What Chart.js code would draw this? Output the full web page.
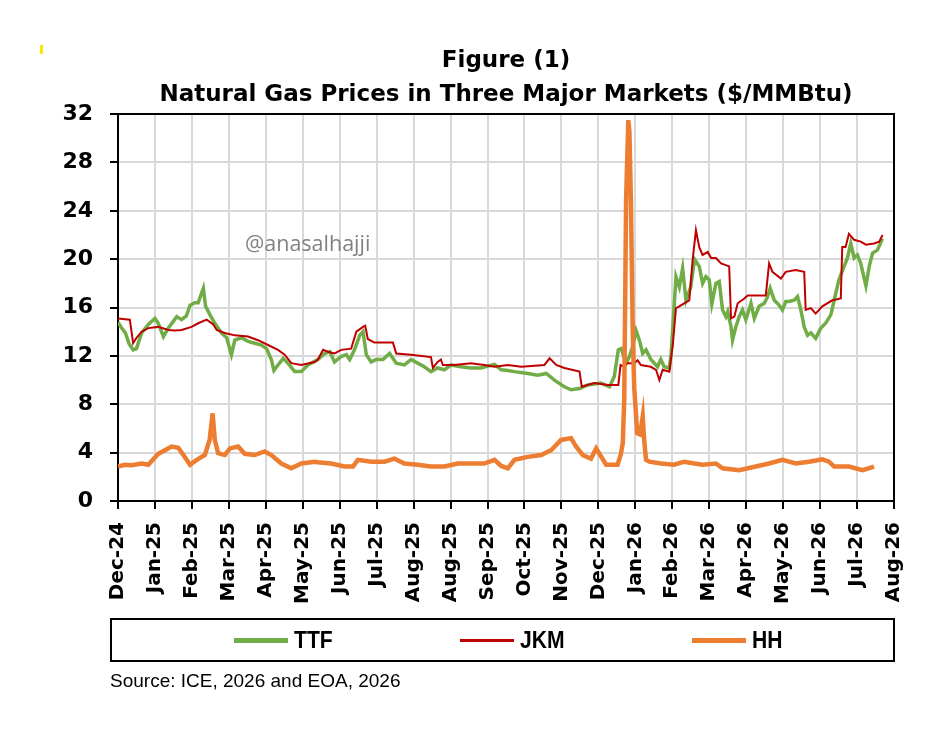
<!DOCTYPE html>
<html>
<head>
<meta charset="utf-8">
<script src="https://cdn.jsdelivr.net/npm/chart.js@4.4.1/dist/chart.umd.min.js"></script>
<style>
  html, body { margin: 0; padding: 0; background: #fff; }
  #wrap { position: relative; width: 950px; height: 743px; overflow: hidden; }
  #wrap canvas { position: absolute; left: 0; top: 0; }
  .mark { position: absolute; left: 40px; top: 45px; width: 3px; height: 9px; background: #ffe600; }
  .watermark { position: absolute; left: 245px; top: 232px; font: 21.5px 'Open Sans', sans-serif; line-height: 21px; color: #808080; }
  .legend-box { position: absolute; left: 110px; top: 618px; width: 781px; height: 40px; border: 2px solid #000; }
  .legend-item { position: absolute; top: 0; height: 40px; display: flex; align-items: center;
                 font: bold 24px 'Liberation Sans', sans-serif; color: #000; }
  .legend-item .swatch { display: inline-block; width: 54px; margin-right: 6px; }
  .legend-item .name { display: inline-block; transform: scaleX(0.88); transform-origin: left center; }
  .source { position: absolute; left: 110px; top: 671px; font: 19px 'Liberation Sans', sans-serif; line-height: 19px; color: #000; }
</style>
</head>
<body>
<div id="wrap">
  <canvas id="gasChart" width="950" height="743"></canvas>
  <div class="mark"></div>
  <div class="watermark">@anasalhajji</div>
  <div class="legend-box" id="legend"></div>
  <div class="source">Source: ICE, 2026 and EOA, 2026</div>
</div>
<script>
// x positions are in months counted from the Dec-24 tick
const monthLabels = ['Dec-24', 'Jan-25', 'Feb-25', 'Mar-25', 'Apr-25', 'May-25', 'Jun-25', 'Jul-25',
    'Aug-25', 'Aug-25', 'Sep-25', 'Oct-25', 'Nov-25', 'Dec-25', 'Jan-26', 'Feb-26', 'Mar-26',
    'Apr-26', 'May-26', 'Jun-26', 'Jul-26', 'Aug-26'];

const titleLines = ['Figure (1)', 'Natural Gas Prices in Three Major Markets ($/MMBtu)'];
const seriesNames = ['TTF', 'JKM', 'HH'];

const ttfMonths = [0.00, 0.10, 0.20, 0.30, 0.41, 0.50, 0.64, 0.82, 1.00, 1.09, 1.23, 1.36, 1.59, 1.72, 1.85, 1.95,
    2.08, 2.17, 2.31, 2.37, 2.49, 2.62, 2.80, 2.94, 3.07, 3.16, 3.34, 3.52, 3.70, 3.88, 4.02, 4.15, 4.22, 4.33,
    4.47, 4.60, 4.78, 4.96, 5.14, 5.41, 5.59, 5.73, 5.86, 6.04, 6.18, 6.27, 6.40, 6.54, 6.63, 6.72, 6.85, 6.99,
    7.17, 7.35, 7.53, 7.75, 7.93, 8.11, 8.29, 8.47, 8.65, 8.83, 9.01, 9.28, 9.55, 9.82, 10.19, 10.37, 10.55,
    10.73, 11.09, 11.36, 11.59, 11.81, 12.08, 12.26, 12.49, 12.71, 13.07, 13.30, 13.43, 13.54, 13.62, 13.75,
    13.84, 13.93, 14.02, 14.11, 14.20, 14.29, 14.42, 14.60, 14.69, 14.78, 14.92, 14.97, 15.05, 15.10, 15.19,
    15.28, 15.37, 15.50, 15.60, 15.73, 15.82, 15.91, 16.00, 16.07, 16.18, 16.27, 16.36, 16.45, 16.50, 16.59,
    16.63, 16.72, 16.81, 16.90, 16.99, 17.13, 17.22, 17.35, 17.49, 17.58, 17.65, 17.76, 17.89, 17.98, 18.07,
    18.16, 18.30, 18.39, 18.48, 18.57, 18.66, 18.75, 18.88, 19.02, 19.15, 19.29, 19.38, 19.51, 19.65, 19.74,
    19.83, 19.92, 20.01, 20.10, 20.24, 20.33, 20.42, 20.55, 20.69];
const ttfValues = [14.8, 14.3, 13.9, 13.0, 12.5, 12.6, 13.9, 14.6, 15.1, 14.7, 13.6, 14.3, 15.25, 15.0, 15.3, 16.2,
    16.4, 16.4, 17.6, 16.1, 15.4, 14.7, 13.9, 13.5, 12.1, 13.3, 13.5, 13.2, 13.05, 12.9, 12.6, 11.7, 10.8, 11.25,
    11.8, 11.4, 10.7, 10.7, 11.25, 11.7, 12.2, 12.35, 11.5, 11.95, 12.1, 11.7, 12.5, 13.7, 14.0, 12.1, 11.5, 11.7,
    11.7, 12.2, 11.4, 11.25, 11.7, 11.4, 11.1, 10.7, 11.0, 10.85, 11.25, 11.1, 11.0, 11.0, 11.3, 10.85, 10.8,
    10.7, 10.55, 10.4, 10.55, 10.0, 9.45, 9.2, 9.3, 9.6, 9.75, 9.45, 10.3, 12.5, 12.6, 11.4,
    11.95, 12.8, 14.1, 13.3, 12.2, 12.5, 11.7, 11.1, 11.7, 11.1, 11.0, 12.2, 16.1, 18.55, 17.7,
    19.25, 16.6, 17.7, 20.0, 19.4, 18.0, 18.55, 18.3, 16.3, 18.0, 18.15, 15.8, 15.25, 15.65, 14.4,
    13.3, 14.4, 15.25, 15.8, 15.0, 16.35, 15.1, 16.1, 16.35, 16.9, 17.6, 16.6, 16.2, 15.8, 16.5,
    16.5, 16.6, 16.9, 15.8, 14.4, 13.7, 13.9, 13.45, 14.3, 14.7, 15.4, 16.6, 18.3, 19.4, 20.1,
    21.3, 20.1, 20.35, 19.65, 17.8, 19.4, 20.5, 20.75, 21.7];

const jkmMonths = [0.00, 0.32, 0.41, 0.50, 0.64, 0.82, 1.09, 1.36, 1.54, 1.72, 1.99, 2.17, 2.40, 2.58, 2.67, 2.89,
    3.16, 3.52, 3.79, 4.06, 4.33, 4.51, 4.69, 4.96, 5.32, 5.41, 5.55, 5.68, 5.86, 6.04, 6.31, 6.45, 6.63, 6.69,
    6.76, 6.94, 7.44, 7.53, 7.93, 8.47, 8.52, 8.65, 8.74, 8.79, 9.10, 9.55, 9.91, 10.19, 10.55, 10.91, 11.54,
    11.68, 11.86, 12.08, 12.49, 12.55, 12.89, 13.25, 13.54, 13.60, 13.70, 13.79, 13.97, 14.06, 14.15, 14.42,
    14.56, 14.65, 14.74, 14.92, 15.01, 15.10, 15.19, 15.32, 15.46, 15.55, 15.64, 15.73, 15.82, 15.96, 16.05,
    16.18, 16.32, 16.54, 16.59, 16.68, 16.77, 16.95, 17.04, 17.53, 17.62, 17.71, 17.94, 18.07, 18.34, 18.57,
    18.61, 18.75, 18.88, 19.06, 19.33, 19.56, 19.60, 19.69, 19.78, 19.92, 20.10, 20.24, 20.46, 20.60, 20.69];
const jkmValues = [15.1, 15.0, 13.05, 13.5, 14.0, 14.3, 14.4, 14.15, 14.1, 14.15, 14.4, 14.7, 15.0, 14.6, 14.15, 13.9,
    13.7, 13.6, 13.3, 12.9, 12.5, 12.1, 11.4, 11.25, 11.5, 11.7, 12.5, 12.35, 12.2, 12.5, 12.6, 14.0, 14.4, 14.5,
    13.4, 13.1, 13.1, 12.2, 12.1, 11.9, 11.0, 11.5, 11.7, 11.25, 11.25, 11.4, 11.25, 11.1, 11.25, 11.1, 11.25,
    11.8, 11.25, 11.0, 10.7, 9.45, 9.75, 9.6, 9.6, 11.25, 11.1, 11.4, 11.4, 11.65, 11.25, 11.1,
    10.85, 10.0, 10.85, 10.7, 12.8, 15.95, 16.1, 16.35, 16.6, 19.9, 22.4, 21.0, 20.35, 20.6, 20.1,
    20.1, 19.65, 19.4, 15.1, 15.25, 16.35, 16.75, 17.0, 17.0, 19.65, 18.95, 18.4, 18.95, 19.1, 18.95,
    15.8, 15.95, 15.5, 16.1, 16.6, 16.75, 21.0, 21.0, 22.1, 21.6, 21.45, 21.2, 21.3, 21.45, 22.0];

const hhMonths = [0.00, 0.18, 0.37, 0.64, 0.82, 1.09, 1.27, 1.45, 1.63, 1.77, 1.95, 2.13, 2.35, 2.48, 2.56, 2.62,
    2.71, 2.89, 3.03, 3.25, 3.43, 3.70, 3.97, 4.15, 4.42, 4.69, 4.96, 5.32, 5.41, 5.77, 6.13, 6.36, 6.49, 6.85,
    7.21, 7.48, 7.75, 8.11, 8.47, 8.83, 9.20, 9.55, 9.91, 10.19, 10.37, 10.55, 10.73, 11.09, 11.45, 11.72, 11.99,
    12.26, 12.40, 12.58, 12.80, 12.94, 13.08, 13.21, 13.52, 13.61, 13.66, 13.70, 13.75, 13.81, 13.84, 13.88,
    13.93, 13.97, 14.05, 14.13, 14.20, 14.24, 14.29, 14.38, 14.69, 15.05, 15.32, 15.60, 15.82, 16.18, 16.36,
    16.81, 17.26, 17.62, 17.98, 18.34, 18.70, 19.06, 19.24, 19.38, 19.78, 20.15, 20.46];
const hhValues = [2.85, 3.0, 2.95, 3.1, 3.0, 3.9, 4.2, 4.5, 4.4, 3.8, 3.0, 3.4, 3.8, 5.05, 7.25, 5.05,
    3.95, 3.8, 4.35, 4.5, 3.9, 3.8, 4.1, 3.8, 3.1, 2.7, 3.1, 3.25, 3.2, 3.1, 2.85, 2.85, 3.4, 3.25,
    3.25, 3.5, 3.1, 3.0, 2.85, 2.85, 3.1, 3.1, 3.1, 3.4, 2.9, 2.7, 3.4, 3.65, 3.8, 4.2, 5.05,
    5.2, 4.5, 3.8, 3.5, 4.35, 3.65, 3.0, 3.0, 3.9, 4.8, 8.4, 24.9, 31.5, 30.5, 24.9,
    13.9, 9.4, 5.6, 5.5, 7.0, 5.0, 3.4, 3.25, 3.1, 3.0, 3.25, 3.1, 3.0, 3.1, 2.7,
    2.55, 2.85, 3.1, 3.4, 3.1, 3.25, 3.45, 3.25, 2.85, 2.85, 2.55, 2.85];

const seriesColors = ['#70AD47', '#C00000', '#ED7D31'];
const seriesWidths = [3.5, 2, 4.5];

function toPoints(months, values) {
    return months.map(function (m, i) { return { x: m, y: values[i] }; });
}

const plotFrame = {
    id: 'plotFrame',
    beforeDatasetsDraw: function (chart) {
        const ctx = chart.ctx;
        const a = chart.chartArea;
        ctx.save();
        ctx.strokeStyle = '#000';
        ctx.lineWidth = 2;
        ctx.beginPath();
        ctx.moveTo(a.left, a.top);
        ctx.lineTo(a.right, a.top);
        ctx.lineTo(a.right, a.bottom);
        ctx.stroke();
        ctx.restore();
    }
};

document.addEventListener('DOMContentLoaded', function () {
    Chart.defaults.font.family = "'DejaVu Sans', sans-serif";
    Chart.defaults.color = '#000';

    const allPoints = [toPoints(ttfMonths, ttfValues), toPoints(jkmMonths, jkmValues), toPoints(hhMonths, hhValues)];

    new Chart(document.getElementById('gasChart').getContext('2d'), {
        type: 'line',
        data: {
            datasets: seriesNames.map(function (name, i) {
                return {
                    label: name,
                    data: allPoints[i],
                    borderColor: seriesColors[i],
                    borderWidth: seriesWidths[i],
                    pointRadius: 0,
                    tension: 0,
                    fill: false,
                    order: 2 - i
                };
            })
        },
        options: {
            responsive: false,
            animation: false,
            layout: { padding: { top: 44, left: 0, right: 56, bottom: 132 } },
            plugins: {
                legend: { display: false },
                tooltip: { enabled: false },
                title: {
                    display: true,
                    fullSize: false,
                    text: titleLines,
                    color: '#000',
                    font: { size: 23, weight: 'bold', lineHeight: 1.48 },
                    padding: { top: 0, bottom: 2 }
                }
            },
            scales: {
                x: {
                    type: 'linear',
                    min: 0,
                    max: 21,
                    afterFit: function (s) { s.height = 110; },
                    border: { color: '#000', width: 2 },
                    grid: { color: '#d9d9d9', lineWidth: 2, tickColor: '#000', tickLength: 8, tickWidth: 2 },
                    ticks: {
                        stepSize: 1,
                        autoSkip: false,
                        minRotation: 90,
                        maxRotation: 90,
                        padding: 13,
                        font: { size: 20, weight: 'bold' },
                        callback: function (v) { return monthLabels[v]; }
                    }
                },
                y: {
                    min: 0,
                    max: 32,
                    afterFit: function (s) { s.width = 118; },
                    border: { color: '#000', width: 2 },
                    grid: { color: '#d9d9d9', lineWidth: 2, tickColor: '#000', tickLength: 8, tickWidth: 2 },
                    ticks: { stepSize: 4, padding: 17, font: { size: 22, weight: 'bold' } }
                }
            }
        },
        plugins: [plotFrame]
    });

    // legend drawn below the axis labels, inside a box like the original
    const legendLeft = [122, 348, 580];
    const legend = document.getElementById('legend');
    seriesNames.forEach(function (name, i) {
        const item = document.createElement('div');
        item.className = 'legend-item';
        item.style.left = legendLeft[i] + 'px';
        const sw = document.createElement('span');
        sw.className = 'swatch';
        sw.style.height = (i === 1 ? 3 : 5) + 'px';
        sw.style.background = seriesColors[i];
        const label = document.createElement('span');
        label.className = 'name';
        label.textContent = name;
        item.appendChild(sw);
        item.appendChild(label);
        legend.appendChild(item);
    });
});
</script>
</body>
</html>
